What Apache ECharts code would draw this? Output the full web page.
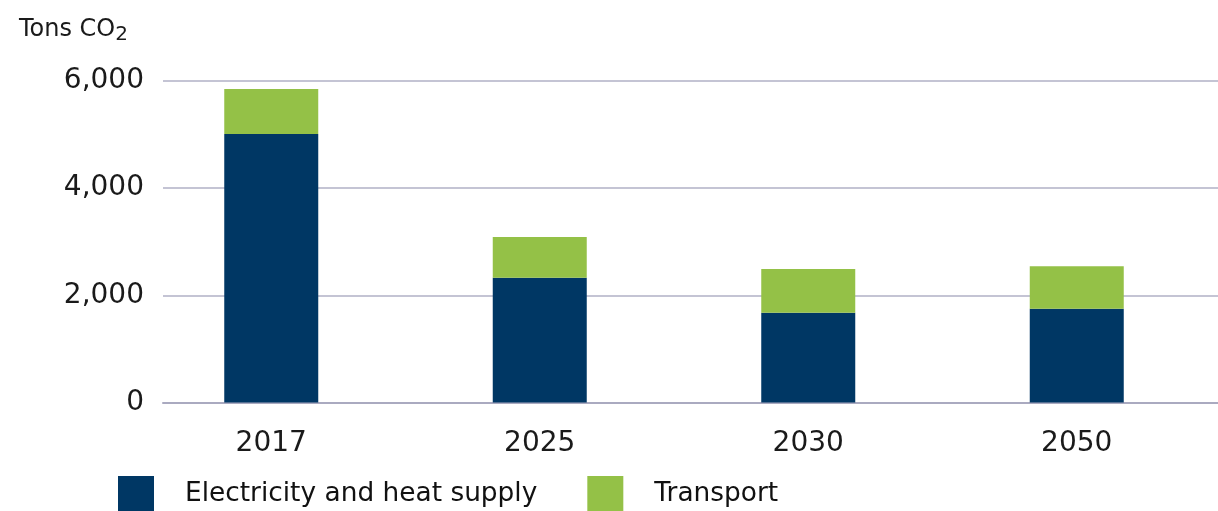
<!DOCTYPE html>
<html>
<head>
<meta charset="utf-8">
<script src="https://cdn.jsdelivr.net/npm/echarts@6/dist/echarts.min.js"></script>
<style>
html,body{margin:0;padding:0;background:#fff;}
#chart{width:1218px;height:511px;}
</style>
</head>
<body>
<div id="chart"></div>
<script>
var categories = ['2017', '2025', '2030', '2050'];
var electricity = [5010, 2330, 1675, 1750];
var transport = [840, 760, 815, 795];
var yTicks = [0, 2000, 4000, 6000];
var seriesNames = ['Electricity and heat supply', 'Transport'];

var chart = echarts.init(document.getElementById('chart'), null, {renderer: 'canvas'});
var font = 'DejaVu Sans';
var option = {
  animation: false,
  backgroundColor: '#ffffff',
  title: {
    text: 'Tons CO{s|2}',
    left: 14,
    top: 10,
    textStyle: {
      fontFamily: font, fontSize: 24, fontWeight: 'normal', color: '#1a1a1a',
      rich: { s: { fontFamily: font, fontSize: 20, color: '#1a1a1a', padding: [10, 0, 0, 0] } }
    }
  },
  legend: {
    left: 113,
    top: 471,
    itemWidth: 36,
    itemHeight: 36,
    itemGap: 50,
    icon: 'rect',
    data: seriesNames,
    textStyle: { fontFamily: font, fontSize: 26.4, color: '#111', padding: [0, 0, 0, 26] }
  },
  grid: [
    { left: 163, right: 0, top: 81, bottom: 108.5 },
    { left: 137, right: 7, top: 81, bottom: 108.5 }
  ],
  xAxis: [
    {
      type: 'category', gridIndex: 0, data: categories,
      axisLine: { show: true, lineStyle: { color: '#aaaac0', width: 2 } },
      axisTick: { show: false }, axisLabel: { show: false }
    },
    {
      type: 'category', gridIndex: 1, data: categories,
      axisLine: { show: false }, axisTick: { show: false },
      axisLabel: { fontFamily: font, fontSize: 28, color: '#1a1a1a', margin: 27 }
    }
  ],
  yAxis: [
    {
      type: 'value', gridIndex: 0, min: yTicks[0], max: yTicks[yTicks.length - 1], interval: 2000,
      axisLine: { show: false }, axisTick: { show: false },
      splitLine: { show: true, lineStyle: { color: '#c4c4d4', width: 2 } },
      axisLabel: {
        fontFamily: font, fontSize: 28, color: '#1a1a1a', margin: 19,
        formatter: function (v) { return v.toLocaleString('en-US'); }
      }
    },
    {
      type: 'value', gridIndex: 1, min: yTicks[0], max: yTicks[yTicks.length - 1], interval: 2000,
      show: false, splitLine: { show: false }
    }
  ],
  series: [
    {
      name: seriesNames[0], type: 'bar', stack: 'total', xAxisIndex: 1, yAxisIndex: 1,
      barWidth: 94, data: electricity, itemStyle: { color: '#003764' }
    },
    {
      name: seriesNames[1], type: 'bar', stack: 'total', xAxisIndex: 1, yAxisIndex: 1,
      barWidth: 94, data: transport, itemStyle: { color: '#94c147' }
    }
  ]
};
chart.setOption(option);
</script>
</body>
</html>
